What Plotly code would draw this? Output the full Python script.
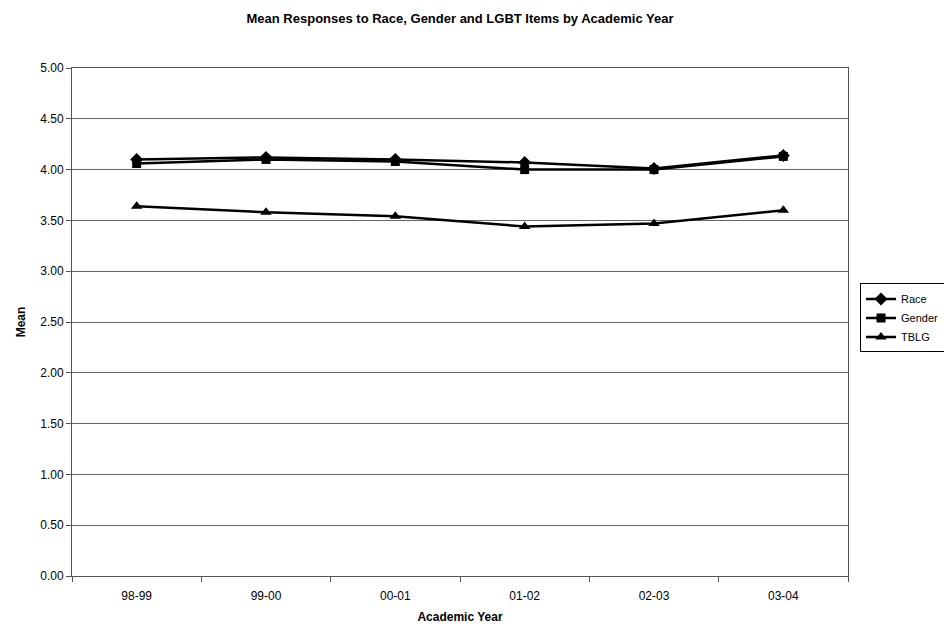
import plotly.graph_objects as go

years = ["98-99", "99-00", "00-01", "01-02", "02-03", "03-04"]
race = [4.10, 4.12, 4.10, 4.07, 4.01, 4.14]
gender = [4.06, 4.10, 4.08, 4.00, 4.00, 4.13]
tblg = [3.64, 3.58, 3.54, 3.44, 3.47, 3.60]
y_ticks = [0, 0.5, 1.0, 1.5, 2.0, 2.5, 3.0, 3.5, 4.0, 4.5, 5.0]

series = [
    ("Race", race, "diamond", 10),
    ("Gender", gender, "square", 9),
    ("TBLG", tblg, "triangle-up", 10),
]

fig = go.Figure()
for name, vals, sym, sz in series:
    fig.add_trace(go.Scatter(
        x=years, y=vals, name=name, mode="lines+markers",
        line=dict(color="black", width=2.5),
        marker=dict(symbol=sym, size=sz, color="black"),
    ))

font = "Liberation Sans, Arial, sans-serif"
fig.update_layout(
    width=944, height=628,
    margin=dict(l=72, r=96, t=68, b=52, autoexpand=False),
    paper_bgcolor="white", plot_bgcolor="white",
    font=dict(family=font, size=13, color="black"),
    title=dict(text="<b>Mean Responses to Race, Gender and LGBT Items by Academic Year</b>",
               x=0.4873, xanchor="center", y=0.971, yanchor="middle",
               font=dict(size=13, family=font, color="black")),
    showlegend=True,
    legend=dict(x=1.0155, xanchor="left", y=0.508, yanchor="middle",
                bordercolor="black", borderwidth=1, bgcolor="white",
                font=dict(size=11, family=font), tracegroupgap=0,
                itemwidth=30),
    xaxis=dict(type="category", range=[-0.5, 5.5], tickson="boundaries",
               ticks="outside", ticklen=5, tickcolor="#555",
               showline=True, linecolor="#555", linewidth=1, mirror=True,
               showgrid=False, tickfont=dict(size=12), ticklabelstandoff=9,
               title=dict(text="<b>Academic Year</b>", font=dict(size=12), standoff=10)),
    yaxis=dict(range=[0, 5], tickvals=y_ticks, tickformat=".2f",
               ticks="outside", ticklen=5, tickcolor="#555",
               showline=True, linecolor="#555", linewidth=1, mirror=True,
               showgrid=True, gridcolor="#666", gridwidth=1, zeroline=False,
               tickfont=dict(size=12),
               title=dict(text="<b>Mean</b>", font=dict(size=12), standoff=12)),
)

fig.write_html("out.html")
